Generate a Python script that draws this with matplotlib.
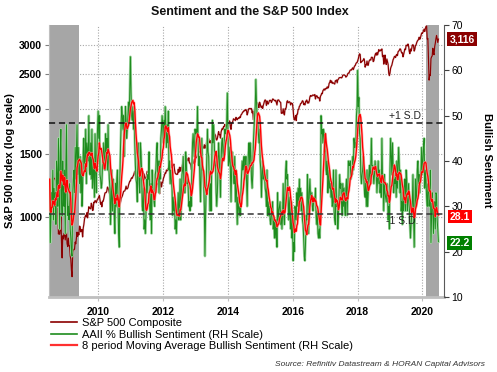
import numpy as np
import pandas as pd
import matplotlib
matplotlib.use("Agg")
import matplotlib.pyplot as plt
from matplotlib.lines import Line2D
import matplotlib.transforms as mtrans

plt.rcParams['font.family'] = ['Liberation Sans', 'DejaVu Sans']

# ---------------- data (weekly, Wednesdays from 2008-07-02) ----------------
sp_2008 = [1262, 1245, 1215, 1252, 1284, 1289, 1285, 1275, 1281, 1275, 1232, 1156, 1188,
           1161, 897, 908, 896, 930, 1005, 852, 770, 887, 870, 899, 904, 864, 903]
sp_2009 = [907, 843, 828, 874, 832, 834, 780, 764, 712, 683, 795, 814, 811, 815, 852, 843, 873,
           908, 884, 903, 893, 943, 940, 910, 920, 923, 881, 932, 954, 986, 1002, 1012, 1002, 1028,
           995, 1033, 1068, 1060, 1057, 1054, 1092, 1081, 1043, 1046, 1099, 1096, 1110,
           1109, 1096, 1110, 1120, 1126]
sp_2010 = [1137, 1148, 1116, 1085, 1098, 1068, 1106, 1105, 1122, 1145, 1166, 1168, 1169,
           1182, 1211, 1205, 1187, 1166, 1155, 1071, 1067, 1102, 1056, 1116, 1092, 1031,
           1060, 1096, 1069, 1106, 1127, 1089, 1095, 1055, 1080, 1098, 1125, 1135, 1145,
           1160, 1178, 1180, 1182, 1197, 1218, 1196, 1198, 1206, 1228, 1243, 1258, 1259]
sp_2011 = [1276, 1285, 1281, 1296, 1305, 1321, 1340, 1307, 1308, 1321, 1257, 1298, 1328,
           1335, 1314, 1330, 1355, 1348, 1342, 1340, 1321, 1315, 1280, 1265, 1287, 1307,
           1339, 1308, 1343, 1305, 1260, 1172, 1193, 1177, 1219, 1198, 1189, 1166, 1151,
           1144, 1207, 1209, 1242, 1237, 1229, 1236, 1161, 1247, 1252, 1212, 1243, 1249]
sp_2012 = [1277, 1292, 1308, 1326, 1324, 1350, 1343, 1358, 1366, 1352, 1395, 1402, 1405,
           1398, 1368, 1386, 1390, 1402, 1354, 1325, 1318, 1313, 1315, 1314, 1356, 1331,
           1374, 1341, 1372, 1338, 1375, 1402, 1405, 1413, 1410, 1404, 1437, 1461, 1433,
           1450, 1432, 1460, 1413, 1412, 1394, 1355, 1391, 1409, 1407, 1428, 1446, 1419]
sp_2013 = [1462, 1461, 1472, 1494, 1502, 1512, 1521, 1511, 1516, 1541, 1554, 1558, 1563,
           1553, 1587, 1552, 1578, 1582, 1632, 1658, 1655, 1648, 1608, 1612, 1628, 1603,
           1615, 1652, 1681, 1685, 1686, 1698, 1685, 1643, 1635, 1653, 1689, 1725, 1693,
           1693, 1656, 1721, 1747, 1763, 1748, 1782, 1781, 1807, 1792, 1782, 1810, 1833]
sp_2014 = [1848, 1837, 1848, 1844, 1775, 1751, 1819, 1828, 1845, 1873, 1868, 1860, 1852,
           1890, 1872, 1862, 1876, 1884, 1878, 1897, 1888, 1920, 1927, 1943, 1957, 1959,
           1974, 1972, 1981, 1987, 1970, 1920, 1946, 1986, 2000, 2000, 1995, 2001, 1998,
           1946, 1968, 1862, 1927, 1982, 2023, 2039, 2048, 2073, 2074, 2026, 2012, 2082, 2059]
sp_2015 = [2026, 2011, 2032, 2002, 2041, 2068, 2100, 2114, 2099, 2040, 2099, 2061,
           2059, 2082, 2106, 2108, 2106, 2080, 2098, 2125, 2123, 2114, 2105, 2100, 2108,
           2077, 2046, 2107, 2114, 2111, 2093, 2086, 2079, 1940, 1948, 1942, 1996, 1938, 1920,
           1995, 1994, 2018, 2090, 2102, 2075, 2083, 2089, 2080, 2047, 2073, 2064, 2063]
sp_2016 = [1990, 1890, 1859, 1882, 1912, 1852, 1927, 1929, 1986, 1989, 2027, 2036, 2063,
           2067, 2082, 2102, 2095, 2051, 2064, 2047, 2090, 2099, 2112, 2071, 2085, 2071,
           2100, 2152, 2173, 2167, 2163, 2175, 2182, 2176, 2171, 2186, 2126, 2164, 2171,
           2160, 2139, 2144, 2139, 2098, 2163, 2177, 2204, 2199, 2241, 2253, 2266, 2249]
sp_2017 = [2270, 2275, 2271, 2298, 2279, 2294, 2349, 2362, 2395, 2363, 2385, 2349, 2361,
           2352, 2345, 2338, 2388, 2388, 2400, 2357, 2404, 2412, 2433, 2437, 2436, 2440,
           2432, 2443, 2474, 2478, 2477, 2474, 2468, 2444, 2457, 2465, 2498, 2508, 2507,
           2537, 2555, 2561, 2557, 2579, 2594, 2565, 2597, 2626, 2630, 2662, 2679, 2682]
sp_2018 = [2713, 2748, 2803, 2837, 2824, 2681, 2698, 2701, 2714, 2727, 2750, 2711, 2605,
           2644, 2642, 2708, 2639, 2636, 2697, 2722, 2733, 2724, 2772, 2776, 2767, 2699,
           2713, 2774, 2815, 2846, 2813, 2858, 2818, 2861, 2914, 2888, 2888, 2908, 2906,
           2926, 2786, 2809, 2656, 2712, 2813, 2701, 2650, 2744, 2700, 2651, 2507, 2468]
sp_2019 = [2510, 2585, 2616, 2639, 2681, 2731, 2753, 2785, 2792, 2771, 2811, 2824, 2805,
           2873, 2888, 2900, 2927, 2924, 2880, 2851, 2856, 2783, 2826, 2879, 2926, 2913,
           2996, 2993, 2985, 3019, 2980, 2883, 2840, 2924, 2887, 2937, 3000, 3006, 2984,
           2887, 2919, 2990, 3004, 3046, 3076, 3094, 3108, 3153, 3113, 3141, 3191, 3239]
sp_2020 = [3231, 3253, 3289, 3321, 3273, 3334, 3379, 3386, 3116, 3130, 2741, 2398, 2475,
           2471, 2750, 2783, 2799, 2940, 2848, 2820, 2972, 3036, 3123, 3190, 3113, 3050, 3116]

bull_2008 = [36, 22, 28, 33, 30, 38, 27, 34, 30, 33, 26, 40, 37, 30, 45, 36, 25, 42,
             47, 32, 28, 40, 34, 30, 38, 24, 39]
bull_2009 = [48, 33, 28, 30, 27, 35, 25, 23, 20, 19, 32, 36, 38, 33, 43, 36, 42, 48, 37, 43, 39,
             35, 41, 33, 40, 30, 34, 42, 45, 38, 39, 47, 35, 44, 42, 40, 50, 38, 37,
             44, 36, 47, 34, 37, 40, 32, 46, 38, 33, 42, 47, 51]
bull_2010 = [45, 50, 37, 36, 34, 35, 39, 41, 44, 40, 38, 46, 42, 45, 38, 48, 40, 36, 34, 26, 31,
             38, 29, 36, 33, 28, 24, 35, 30, 36, 38, 31, 24, 21, 36, 43, 48, 52, 50,
             47, 50, 41, 46, 52, 49, 45, 47, 50, 53, 49, 56, 63]
bull_2011 = [55, 50, 49, 52, 47, 51, 44, 39, 36, 35, 31, 44, 40, 35, 33, 44, 42, 38, 30, 29, 34,
             25, 27, 24, 28, 36, 33, 37, 36, 42, 30, 27, 35, 24, 38, 34, 33, 31, 30,
             37, 38, 42, 44, 36, 40, 33, 40, 36, 45, 47, 50, 48]
bull_2012 = [44, 49, 45, 52, 47, 43, 48, 44, 51, 38, 40, 35, 38, 36, 34, 28, 32, 29, 31, 25, 27, 24,
             28, 29, 33, 27, 30, 36, 27, 31, 37, 38, 41, 36, 33, 33, 42, 40, 35,
             36, 34, 30, 31, 29, 34, 30, 39, 44, 46, 43, 41, 47]
bull_2013 = [46, 47, 46, 52, 44, 39, 41, 35, 31, 39, 45, 38, 38, 35, 30, 19, 28, 34, 39, 47, 42, 41,
             35, 29, 35, 29, 40, 49, 44, 48, 44, 39, 40, 33, 30, 33, 39, 44, 41,
             37, 32, 40, 44, 45, 42, 40, 44, 47, 46, 47, 48, 55]
bull_2014 = [47, 39, 40, 43, 38, 31, 38, 42, 40, 38, 35, 41, 31, 38, 32, 26, 32, 30, 28, 30, 28, 33,
             37, 40, 38, 39, 41, 36, 39, 41, 35, 30, 37, 42, 44, 39, 44, 41, 36,
             34, 37, 44, 47, 50, 52, 58, 53, 50, 49, 46, 44, 47, 40]
bull_2015 = [38, 32, 37, 40, 36, 38, 37, 34, 33, 30, 38, 28, 31, 28, 30, 27, 26, 28, 29, 31, 25,
             27, 23, 27, 23, 27, 21, 33, 27, 29, 30, 31, 26, 29, 25, 28, 35, 28, 26,
             33, 38, 40, 36, 37, 31, 27, 32, 28, 25, 31, 23, 27]
bull_2016 = [18, 22, 20, 30, 29, 27, 33, 30, 34, 29, 36, 31, 34, 29, 33, 27, 26, 23, 19, 18, 22,
             28, 27, 37, 33, 24, 33, 36, 32, 31, 33, 30, 29, 31, 32, 31, 34, 28, 26,
             29, 24, 23, 25, 23, 29, 50, 46, 47, 44, 47, 46, 42]
bull_2017 = [46, 38, 37, 40, 33, 36, 38, 34, 35, 32, 34, 30, 31, 38, 29, 27, 26, 38, 30, 31, 25, 28,
             33, 37, 34, 35, 31, 28, 35, 30, 34, 30, 28, 34, 36, 28, 33, 40, 39,
             39, 40, 36, 38, 37, 41, 38, 45, 43, 44, 43, 50, 52]
bull_2018 = [60, 52, 54, 46, 45, 37, 35, 37, 38, 41, 36, 33, 32, 36, 30, 38, 30, 33, 37, 39, 35, 38,
             45, 39, 39, 37, 35, 37, 40, 38, 37, 33, 36, 40, 35, 38, 33, 35, 32,
             45, 36, 35, 29, 37, 33, 32, 31, 35, 34, 27, 30, 25]
bull_2019 = [38, 45, 41, 37, 44, 39, 33, 36, 35, 38, 32, 40, 34, 39, 43, 39, 33, 38, 29, 31, 26, 33,
             29, 33, 36, 29, 38, 36, 29, 31, 35, 31, 26, 23, 26, 28, 31, 37, 28,
             21, 28, 36, 30, 33, 38, 40, 35, 37, 33, 37, 38, 43]
bull_2020 = [37, 40, 43, 45, 34, 38, 36, 32, 30, 35, 34, 30, 32, 38, 22, 28, 33, 30,
             24, 29, 31, 25, 33, 32.6, 27, 25, 22.2]

sd_plus = 48.4
sd_minus = 28.2
left_ticks = [1000, 1500, 2000, 2500, 3000]
right_ticks = [10, 20, 30, 40, 50, 60, 70]
year_ticks = [2010, 2012, 2014, 2016, 2018, 2020]
labels = ["S&P 500 Composite", "AAII % Bullish Sentiment (RH Scale)",
          "8 period Moving Average Bullish Sentiment (RH Scale)"]

sp500 = np.array(sp_2008 + sp_2009 + sp_2010 + sp_2011 + sp_2012 + sp_2013 + sp_2014 +
                 sp_2015 + sp_2016 + sp_2017 + sp_2018 + sp_2019 + sp_2020, dtype=float)
bull = np.array(bull_2008 + bull_2009 + bull_2010 + bull_2011 + bull_2012 + bull_2013 +
                bull_2014 + bull_2015 + bull_2016 + bull_2017 + bull_2018 + bull_2019 +
                bull_2020, dtype=float)
sp_dates = pd.date_range("2008-07-02", periods=len(sp500), freq="W-WED")
bull_dates = pd.date_range("2008-07-02", periods=len(bull), freq="W-WED")
ma = pd.Series(bull).rolling(8, min_periods=1).mean().values

# ---------------- figure ----------------
fig = plt.figure(figsize=(4.97, 3.72), dpi=100)
ax = fig.add_axes([49 / 497, 1 - 297 / 372, 395 / 497, 272 / 372])
ax2 = ax.twinx()

ax.set_yscale("log")
ax.set_ylim(600, 3410)
ax.set_xlim(pd.Timestamp("2008-06-24"), pd.Timestamp("2020-09-02"))
ax.set_axisbelow(True)
ax.yaxis.set_minor_locator(matplotlib.ticker.NullLocator())
ax.set_yticks(left_ticks, [str(v) for v in left_ticks], fontweight="bold", fontsize=7.5)
ax.set_xticks([pd.Timestamp(f"{y}-01-01") for y in year_ticks], [str(y) for y in year_ticks],
              fontweight="bold", fontsize=7.5)
ax.grid(True, color="#a8a8a8", linestyle=(0, (1, 1.5)), linewidth=0.8)
ax.tick_params(axis="y", length=3, color="#808080", pad=2)
ax.tick_params(axis="x", length=3, color="#bfbfbf", pad=4)

# recession shading
ax.axvspan(pd.Timestamp("2008-06-20"), pd.Timestamp("2009-06-01"), color="#a6a6a6", lw=0, zorder=1)
ax.axvspan(pd.Timestamp("2020-02-12"), pd.Timestamp("2020-07-05"), color="#a6a6a6", lw=0, zorder=1)

ax.plot(sp_dates, sp500, color="#d09a9a", lw=1.5, alpha=0.4, zorder=3)
ax.plot(sp_dates, sp500, color="#8b0000", lw=0.85, zorder=3.1)

for s in ["top", "right"]:
    ax.spines[s].set_visible(False)
ax.spines["left"].set_color("#bfbfbf")
ax.spines["bottom"].set_color("#bfbfbf")
ax.spines["bottom"].set_linewidth(2)

ax2.set_ylim(10, 70)
ax2.set_yticks(right_ticks, [str(v) for v in right_ticks], fontsize=7.5)
ax2.tick_params(axis="y", length=3.5, color="#404040", pad=2)
for s in ["top", "left", "bottom"]:
    ax2.spines[s].set_visible(False)
ax2.spines["right"].set_color("#595959")

ax2.plot(bull_dates, bull, color="#a3d6a3", lw=1.8, zorder=2)
ax2.plot(bull_dates, bull, color="#1e8c1e", lw=0.7, zorder=2.1)
ax2.plot(bull_dates, ma, color="#ff9a9a", lw=1.9, alpha=0.7, zorder=3)
ax2.plot(bull_dates, ma, color="#ff0000", lw=0.95, zorder=3.1)

ax2.axhline(sd_plus, color="#111111", ls=(0, (4, 2.5)), lw=1.1, zorder=4)
ax2.axhline(sd_minus, color="#333333", ls=(0, (4, 2.5)), lw=1.1, zorder=4)
bt = mtrans.blended_transform_factory(ax2.transAxes, ax2.transData)
ax2.annotate("+1 S.D.", xy=(0.950, sd_plus), xycoords=bt, xytext=(0, 1.5),
             textcoords="offset points", ha="right", va="bottom", fontsize=7.5, color="#222222")
ax2.annotate("-1 S.D.", xy=(0.935, sd_minus), xycoords=bt, xytext=(0, -1.0),
             textcoords="offset points", ha="right", va="top", fontsize=7.5, color="#222222")

# last value boxes
ax.annotate(f"{sp500[-1]:,.0f}", xy=(1, sp500[-1]), xycoords=("axes fraction", "data"),
            xytext=(4, 0), textcoords="offset points", ha="left", va="center", color="white",
            fontweight="bold", fontsize=7.5, annotation_clip=False,
            bbox=dict(boxstyle="square,pad=0.22", fc="#8b0000", ec="none"))
ax2.annotate(f"{ma[-1]:.1f}", xy=(1, ma[-1]), xycoords=("axes fraction", "data"),
             xytext=(4, -1.2), textcoords="offset points", ha="left", va="center", color="white",
             fontweight="bold", fontsize=7.5, annotation_clip=False,
             bbox=dict(boxstyle="square,pad=0.18", fc="#ff0000", ec="none"))
ax2.annotate(f"{bull[-1]:.1f}", xy=(1, bull[-1]), xycoords=("axes fraction", "data"),
             xytext=(4, -1.0), textcoords="offset points", ha="left", va="center", color="white",
             fontweight="bold", fontsize=7.5, annotation_clip=False,
             bbox=dict(boxstyle="square,pad=0.22", fc="#008000", ec="none"))

# texts
fig.text(250 / 497, 1 - 12 / 372, "Sentiment and the S&P 500 Index", ha="center", va="center",
         fontweight="bold", fontsize=9, color="#111111")
fig.text(10 / 497, 1 - 161 / 372, "S&P 500 Index (log scale)", rotation=90, ha="center",
         va="center", fontweight="bold", fontsize=8)
fig.text(487 / 497, 1 - 160 / 372, "Bullish Sentiment", rotation=270, ha="center",
         va="center", fontweight="bold", fontsize=8)
fig.text(485 / 497, 1 - 364 / 372, "Source: Refinitiv Datastream & HORAN Capital Advisors",
         ha="right", va="center", style="italic", fontsize=6, color="#333333")

handles = [Line2D([], [], color="#8b0000", lw=1.2),
           Line2D([], [], color="#1e8c1e", lw=1.2),
           Line2D([], [], color="#ff3030", lw=1.6)]
fig.legend(handles, labels, loc="upper left", bbox_to_anchor=(51 / 497, 1 - 318 / 372),
           frameon=False, fontsize=8, handlelength=2.3, handletextpad=0.5,
           labelspacing=0.15, borderpad=0, borderaxespad=0)

fig.savefig("out.png", dpi=100)
